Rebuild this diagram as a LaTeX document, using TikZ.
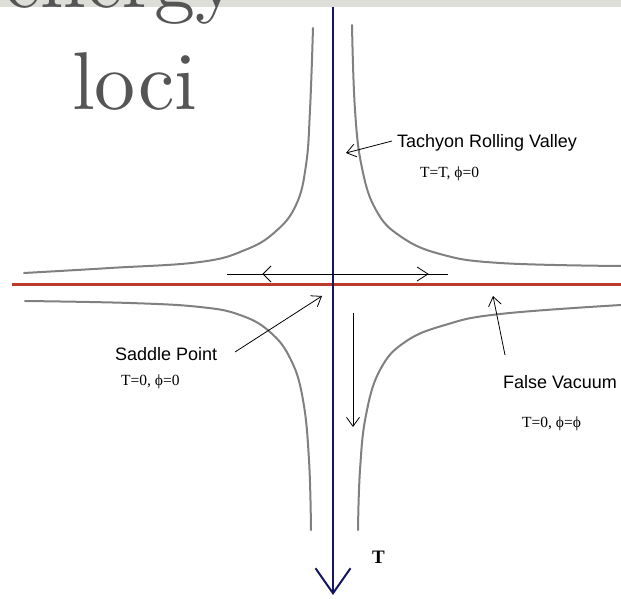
\documentclass[tikz,border=0pt]{standalone}
\usepackage{fontspec}
\newfontfamily\lsans{Liberation Sans}
\newfontfamily\lserif{Liberation Serif}
\newfontfamily\titlefont{lmroman10-regular}[Extension=.otf]
\usetikzlibrary{arrows.meta}
\definecolor{axisblue}{RGB}{22,22,96}
\definecolor{axisred}{RGB}{188,58,42}
\definecolor{curvegray}{RGB}{128,128,128}
\definecolor{titlegray}{RGB}{85,85,85}
\definecolor{bandgray}{RGB}{222,222,216}
\begin{document}
\begin{tikzpicture}[x=1pt,y=-1pt,
  curve/.style={curvegray, line width=2pt, line cap=round},
  pointer/.style={black, line width=0.8pt, -{Straight Barb[length=9pt,width=13pt]}},
  thin/.style={black, line width=0.8pt},
  lbl/.style={font=\lsans\fontsize{18}{20}\selectfont, inner sep=0pt, anchor=base west},
  eq/.style={font=\lserif\fontsize{15.5}{18}\selectfont, inner sep=0pt, anchor=base west},
  title/.style={font=\titlefont\fontsize{82}{96}\selectfont, text=titlegray, inner sep=0pt, anchor=base west}]
\useasboundingbox (0,0) rectangle (621,599);
\clip (0,0) rectangle (621,599);
\fill[bandgray] (0,0) rectangle (621,7);
% title
\node[title] (t1) at (4,8) {energy};
\node[title] (t2) at (72,110) {loci};
% gray curves
\draw[curve] plot[smooth, tension=0.7] coordinates {(24,273) (110,268) (200,262) (245,250) (275,232) (296,205) (306,165) (310,110) (313,28)};
\draw[curve] plot[smooth, tension=0.7] coordinates {(352,25) (355,110) (362,168) (376,210) (400,236) (440,254) (500,263) (621,266)};
\draw[curve] plot[smooth, tension=0.7] coordinates {(25,301) (130,303) (200,307) (240,315) (270,332) (291,360) (303,400) (309,460) (311,530)};
\draw[curve] plot[smooth, tension=0.7] coordinates {(358,530) (360,470) (366,415) (380,370) (405,342) (445,325) (500,314) (621,305)};
% axes
\coordinate (rl) at (12,284);
\coordinate (rr) at (621,284);
\draw[axisred, line width=3pt] (rl) -- (rr);
\coordinate (btop) at (333,7);
\coordinate (bbot) at (333,595);
\draw[axisblue, line width=2pt, -{Straight Barb[length=25pt,width=35pt,line width=2pt]}] (btop) -- (bbot);
% horizontal double arrow
\coordinate (hl) at (227,274);
\coordinate (hr) at (448,274);
\draw[thin] (hl) -- (hr);
\coordinate (lt) at (263,274);
\coordinate (la) at (271,266);
\coordinate (lb) at (271,282);
\draw[thin] (la) -- (lt) -- (lb);
\coordinate (rt) at (428,274);
\coordinate (ra) at (417,267);
\coordinate (rb) at (417,281);
\draw[thin] (ra) -- (rt) -- (rb);
% small vertical arrow
\coordinate (vs) at (353,313);
\coordinate (ve) at (353,427);
\draw[pointer] (vs) -- (ve);
% labels
\node[lbl] (tach) at (397,147) {Tachyon Rolling Valley};
\node[eq] (tache) at (420,177) {T=T, ϕ=0};
\coordinate (tachs) at (392,141);
\coordinate (tacht) at (346,153);
\draw[pointer] (tachs) -- (tacht);
\node[lbl] (sad) at (115,360) {Saddle Point};
\node[eq] (sade) at (121,385) {T=0, ϕ=0};
\coordinate (sads) at (235,352);
\coordinate (sadt) at (322,296);
\draw[pointer] (sads) -- (sadt);
\node[lbl] (fv) at (503,388) {False Vacuum};
\node[eq] (fve) at (522,427) {T=0, ϕ=ϕ};
\coordinate (fvs) at (505,355);
\coordinate (fvt) at (493,296);
\draw[pointer] (fvs) -- (fvt);
\node[eq, font=\lserif\bfseries\fontsize{19}{22}\selectfont] (tl) at (372,563) {T};
\end{tikzpicture}
\end{document}
